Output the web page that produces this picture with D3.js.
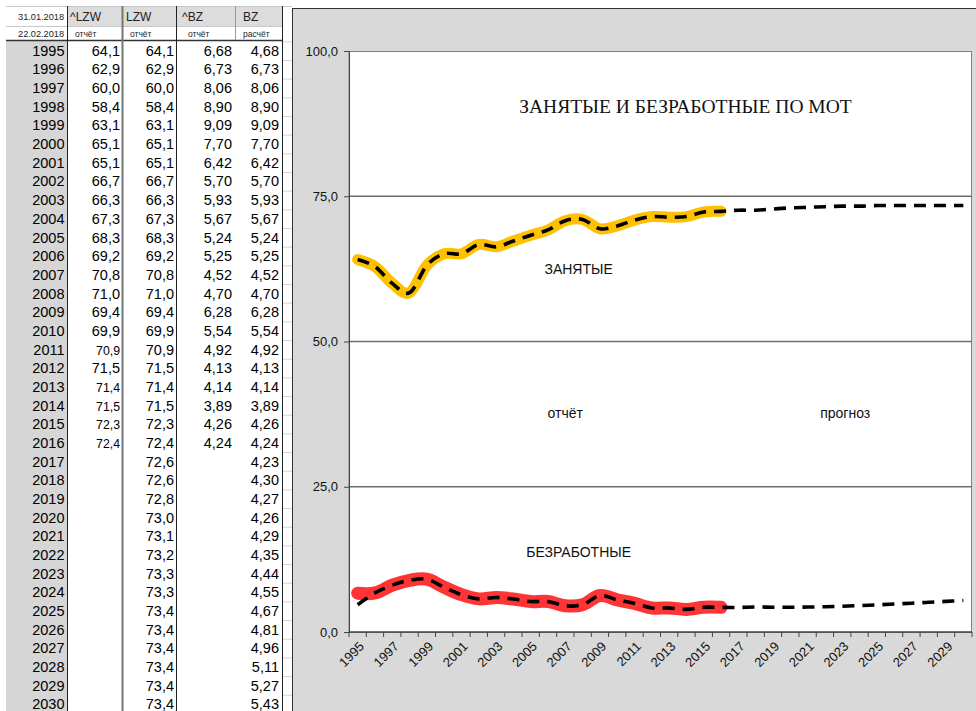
<!DOCTYPE html>
<html>
<head>
<meta charset="utf-8">
<script src="https://cdn.jsdelivr.net/npm/d3@7"></script>
<style>
  body { margin: 0; background: #fff; }
  svg { display: block; font-family: 'Liberation Sans', Arial, sans-serif; }
</style>
</head>
<body>
<div id="area"></div>
<script>
// data read from the sheet
var years = [1995, 1996, 1997, 1998, 1999, 2000, 2001, 2002, 2003, 2004, 2005, 2006,
  2007, 2008, 2009, 2010, 2011, 2012, 2013, 2014, 2015, 2016, 2017, 2018,
  2019, 2020, 2021, 2022, 2023, 2024, 2025, 2026, 2027, 2028, 2029, 2030];
var lzwReport = [64.1, 62.9, 60.0, 58.4, 63.1, 65.1, 65.1, 66.7, 66.3, 67.3, 68.3, 69.2,
  70.8, 71.0, 69.4, 69.9, 70.9, 71.5, 71.4, 71.5, 72.3, 72.4];
var lzw = [64.1, 62.9, 60.0, 58.4, 63.1, 65.1, 65.1, 66.7, 66.3, 67.3, 68.3, 69.2,
  70.8, 71.0, 69.4, 69.9, 70.9, 71.5, 71.4, 71.5, 72.3, 72.4, 72.6, 72.6,
  72.8, 73.0, 73.1, 73.2, 73.3, 73.3, 73.4, 73.4, 73.4, 73.4, 73.4, 73.4];
var bzReport = [6.68, 6.73, 8.06, 8.90, 9.09, 7.70, 6.42, 5.70, 5.93, 5.67, 5.24, 5.25,
  4.52, 4.70, 6.28, 5.54, 4.92, 4.13, 4.14, 3.89, 4.26, 4.24];
var bz = [4.68, 6.73, 8.06, 8.90, 9.09, 7.70, 6.42, 5.70, 5.93, 5.67, 5.24, 5.25,
  4.52, 4.70, 6.28, 5.54, 4.92, 4.13, 4.14, 3.89, 4.26, 4.24, 4.23, 4.30,
  4.27, 4.26, 4.29, 4.35, 4.44, 4.55, 4.67, 4.81, 4.96, 5.11, 5.27, 5.43];
var yTicks = [0, 25, 50, 75, 100];
var dates = ['31.01.2018', '22.02.2018'];
var colHeads = ['^LZW', 'LZW', '^BZ', 'BZ'];
var colSubs = ['отчёт', 'отчёт', 'отчёт', 'расчёт'];
var title = 'ЗАНЯТЫЕ И БЕЗРАБОТНЫЕ ПО МОТ';

var w = 976, h = 711;
var svg = d3.select('#area').append('svg').attr('width', w).attr('height', h);

// ---------- TABLE ----------
var colEdges = [6, 67, 122, 176, 235, 282, 292];
var rowY = d3.scaleBand().domain(years).range([41.3, 41.3 + years.length * 18.67]);
var comma = function(v, n) { return v.toFixed(n).replace('.', ','); };
var smallCells = new Set([2011, 2013, 2014, 2015, 2016]); // smaller font in ^LZW

var table = svg.append('g');
table.append('rect').attr('x', colEdges[0]).attr('y', 41).attr('width', colEdges[1] - colEdges[0])
  .attr('height', h - 41).attr('fill', '#d6d6d6');
table.append('rect').attr('x', colEdges[1]).attr('y', 6).attr('width', colEdges[5] - colEdges[1])
  .attr('height', 20).attr('fill', '#dcdcdc');

// faint cell lines in the narrow column
table.selectAll('line.cell').data(years).enter().append('line')
  .attr('x1', colEdges[5]).attr('x2', colEdges[6])
  .attr('y1', function(d) { return rowY(d) + 0.5; }).attr('y2', function(d) { return rowY(d) + 0.5; })
  .attr('stroke', '#d4d4d4');

table.append('line').attr('x1', colEdges[0]).attr('x2', colEdges[6]).attr('y1', 6.5).attr('y2', 6.5).attr('stroke', '#c8c8c8');
table.append('line').attr('x1', colEdges[0]).attr('x2', colEdges[5]).attr('y1', 26.5).attr('y2', 26.5).attr('stroke', '#c8c8c8');
table.append('line').attr('x1', colEdges[0]).attr('x2', colEdges[5]).attr('y1', 40.5).attr('y2', 40.5).attr('stroke', '#333').attr('stroke-width', 1.5);

[1, 2, 3, 5].forEach(function(i) {
  table.append('line').attr('x1', colEdges[i] + 0.5).attr('x2', colEdges[i] + 0.5).attr('y1', 6).attr('y2', h)
    .attr('stroke', i === 2 ? '#777' : '#222').attr('stroke-width', i === 2 ? 2 : 1);
});
table.append('line').attr('x1', colEdges[4] + 0.5).attr('x2', colEdges[4] + 0.5).attr('y1', 6).attr('y2', 40)
  .attr('stroke', '#999');

table.selectAll('text.date').data(dates).enter().append('text')
  .attr('x', 64).attr('y', function(d, i) { return i === 0 ? 20 : 37; })
  .attr('text-anchor', 'end').attr('font-size', 9.2)
  .attr('fill', '#222').text(function(d) { return d; });
table.selectAll('text.head').data(colHeads).enter().append('text')
  .attr('x', function(d, i) { return [70, 126, 182, 243][i]; }).attr('y', 21)
  .attr('font-size', 12).attr('fill', '#222').text(function(d) { return d; });
table.selectAll('text.sub').data(colSubs).enter().append('text')
  .attr('x', function(d, i) { return [75, 130, 188, 243][i]; }).attr('y', 37)
  .attr('font-size', 8.5).attr('fill', '#222').text(function(d) { return d; });

var cellRow = function(d) { return rowY(d) + 14.5; };
table.selectAll('text.year').data(years).enter().append('text')
  .attr('x', 64.5).attr('y', cellRow).attr('text-anchor', 'end').attr('font-size', 14.5)
  .text(function(d) { return d; });
table.selectAll('text.c1').data(lzwReport).enter().append('text')
  .attr('x', 120).attr('y', function(d, i) { return cellRow(years[i]); })
  .attr('text-anchor', 'end').attr('font-size', function(d, i) { return smallCells.has(years[i]) ? 12.3 : 14.5; })
  .text(function(d) { return comma(d, 1); });
table.selectAll('text.c2').data(lzw).enter().append('text')
  .attr('x', 174).attr('y', function(d, i) { return cellRow(years[i]); })
  .attr('text-anchor', 'end').attr('font-size', 14.5).text(function(d) { return comma(d, 1); });
table.selectAll('text.c3').data(bzReport).enter().append('text')
  .attr('x', 232).attr('y', function(d, i) { return cellRow(years[i]); })
  .attr('text-anchor', 'end').attr('font-size', 14.5).text(function(d) { return comma(d, 2); });
table.selectAll('text.c4').data(bz).enter().append('text')
  .attr('x', 279).attr('y', function(d, i) { return cellRow(years[i]); })
  .attr('text-anchor', 'end').attr('font-size', 14.5).text(function(d) { return comma(d, 2); });

// ---------- CHART ----------
svg.append('rect').attr('x', 292.5).attr('y', 8.5).attr('width', w).attr('height', h)
  .attr('fill', '#d9d9d9').attr('stroke', '#333');

var plot = { left: 349, right: 972, top: 51, bottom: 632 };
var xScale = d3.scaleBand().domain(years).range([plot.left, plot.right]);
var yScale = d3.scaleLinear().domain([0, 100]).range([plot.bottom, plot.top]);
var cx = function(d) { return xScale(d) + xScale.bandwidth() / 2; };

svg.append('rect').attr('x', plot.left).attr('y', plot.top + 0.5)
  .attr('width', plot.right - plot.left - 0.5).attr('height', plot.bottom - plot.top)
  .attr('fill', '#fff').attr('stroke', '#808080');

// gridlines
svg.selectAll('line.grid').data(yTicks.filter(function(d) { return d > 0 && d < 100; }))
  .enter().append('line')
  .attr('x1', plot.left).attr('x2', plot.right)
  .attr('y1', function(d) { return yScale(d); }).attr('y2', function(d) { return yScale(d); })
  .attr('stroke', '#6e6e6e').attr('stroke-width', 1.3);

var yAxis = d3.axisLeft(yScale).tickValues(yTicks).tickSize(5).tickPadding(6)
  .tickFormat(function(n) { return comma(n, 1); });
var gy = svg.append('g').attr('transform', 'translate(' + plot.left + ',0)').call(yAxis);
gy.select('.domain').attr('stroke', '#444');
gy.selectAll('line').attr('stroke', '#444');
gy.selectAll('text').attr('font-size', 13).attr('fill', '#111').attr('font-family', 'Liberation Sans, Arial');

// x axis: ticks between categories, labels every second year
var gx = svg.append('g').attr('transform', 'translate(0,' + plot.bottom + ')');
gx.append('line').attr('x1', plot.left).attr('x2', plot.right).attr('stroke', '#444').attr('stroke-width', 1.3);
gx.selectAll('line.tick').data(years.concat(['end'])).enter().append('line')
  .attr('x1', function(d) { return d === 'end' ? plot.right : xScale(d); })
  .attr('x2', function(d) { return d === 'end' ? plot.right : xScale(d); })
  .attr('y1', 0).attr('y2', 5).attr('stroke', '#444');
gx.selectAll('text').data(years.filter(function(d, i) { return i % 2 === 0; }))
  .enter().append('text')
  .attr('transform', function(d) { return 'translate(' + (cx(d) + 4) + ',12) rotate(-45)'; })
  .attr('text-anchor', 'end').attr('dy', '0.35em').attr('font-size', 13).attr('fill', '#111')
  .text(function(d) { return d; });

var line = d3.line()
  .x(function(d, i) { return cx(years[i]); })
  .y(function(d) { return yScale(d); })
  .curve(d3.curveCardinal.tension(0));

svg.append('path').datum(lzwReport).attr('d', line).attr('fill', 'none')
  .attr('stroke', '#ffc000').attr('stroke-width', 11).attr('stroke-linecap', 'round').attr('stroke-linejoin', 'round');
svg.append('path').datum(bzReport).attr('d', line).attr('fill', 'none')
  .attr('stroke', '#ff3535').attr('stroke-width', 13).attr('stroke-linecap', 'round').attr('stroke-linejoin', 'round');
[lzw, bz].forEach(function(s) {
  svg.append('path').datum(s).attr('d', line).attr('fill', 'none')
    .attr('stroke', '#000').attr('stroke-width', 3.6).attr('stroke-dasharray', '12,8');
});

// annotations
svg.append('text').attr('x', cx(2014) - 1).attr('y', yScale(89.3)).attr('text-anchor', 'middle')
  .attr('font-family', 'Liberation Serif, Times New Roman, serif').attr('font-size', 19.5)
  .attr('fill', '#111').text(title);
var notes = [
  { t: 'ЗАНЯТЫЕ', yr: 2008, dx: -4, v: 61.6 },
  { t: 'отчёт', yr: 2007, dx: 0, v: 36.8 },
  { t: 'прогноз', yr: 2023, dx: 3, v: 36.8 },
  { t: 'БЕЗРАБОТНЫЕ', yr: 2008, dx: -4, v: 12.9 }
];
svg.selectAll('text.note').data(notes).enter().append('text')
  .attr('x', function(d) { return cx(d.yr) + d.dx; }).attr('y', function(d) { return yScale(d.v); })
  .attr('text-anchor', 'middle').attr('font-size', 14).attr('fill', '#111')
  .text(function(d) { return d.t; });
</script>
</body>
</html>
